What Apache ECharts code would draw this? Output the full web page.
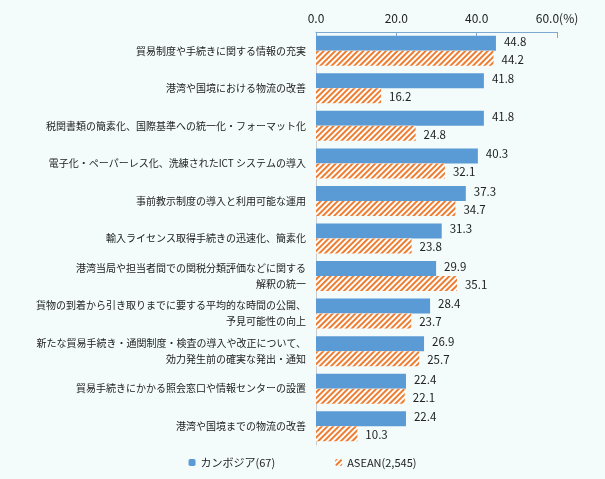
<!DOCTYPE html>
<html><head><meta charset="utf-8">
<script src="https://cdn.jsdelivr.net/npm/echarts@6/dist/echarts.min.js"></script>
<style>html,body{margin:0;padding:0;background:#f3fbfb;}#c{width:605px;height:479px;}</style>
</head><body><div id="c"></div>
<script>
const categories = [
 '貿易制度や手続きに関する情報の充実',
 '港湾や国境における物流の改善',
 '税関書類の簡素化、国際基準への統一化・フォーマット化',
 '電子化・ペーパーレス化、洗練されたICT システムの導入',
 '事前教示制度の導入と利用可能な運用',
 '輸入ライセンス取得手続きの迅速化、簡素化',
 '港湾当局や担当者間での関税分類評価などに関する\n解釈の統一',
 '貨物の到着から引き取りまでに要する平均的な時間の公開、\n予見可能性の向上',
 '新たな貿易手続き・通関制度・検査の導入や改正について、\n効力発生前の確実な発出・通知',
 '貿易手続きにかかる照会窓口や情報センターの設置',
 '港湾や国境までの物流の改善'
];
const cambodia = [44.8,41.8,41.8,40.3,37.3,31.3,29.9,28.4,26.9,22.4,22.4];
const asean = [44.2,16.2,24.8,32.1,34.7,23.8,35.1,23.7,25.7,22.1,10.3];
const xTicks = ['0.0','20.0','40.0','60.0(%)'];
const font = '"Noto Sans CJK JP","Noto Sans",sans-serif';
const chart = echarts.init(document.getElementById('c'));
chart.setOption({
 backgroundColor:'#f3fbfb',
 textStyle:{fontFamily:font},
 grid:{left:316,right:48,top:32,bottom:34},
 xAxis:{type:'value',position:'top',min:0,max:60,interval:20,
  axisLine:{show:true,lineStyle:{color:'#7fa8d0'}},
  axisTick:{show:true,inside:true,length:6,lineStyle:{color:'#7fa8d0'}},
  splitLine:{show:false},
  axisLabel:{color:'#222',fontSize:12,fontFamily:font,margin:8,
    formatter:v=>xTicks[Math.round(v/20)]}},
 yAxis:{type:'category',data:categories,inverse:true,
  axisLine:{lineStyle:{color:'#ccc'}},axisTick:{show:false},
  axisLabel:{color:'#222',fontSize:10,align:'right',lineHeight:16,fontFamily:font,margin:10}},
 legend:{bottom:6,left:'center',itemWidth:7,itemHeight:7,itemGap:60,
  textStyle:{fontSize:11,color:'#222',fontFamily:font},
  data:['カンボジア(67)','ASEAN(2,545)']},
 series:[
  {name:'カンボジア(67)',type:'bar',data:cambodia,barWidth:15,barGap:'0%',barCategoryGap:'20%',
   itemStyle:{color:'#5b9bd5'},
   label:{show:true,position:'right',color:'#222',fontSize:11.5,distance:8,offset:[0,-2],formatter:p=>p.value.toFixed(1)}},
  {name:'ASEAN(2,545)',type:'bar',data:asean,barWidth:15,
   itemStyle:{color:'#ffffff',decal:{symbol:'rect',color:'#ed7d31',dashArrayX:[1,0],dashArrayY:[2,2],rotation:-Math.PI/4}},
   label:{show:true,position:'right',color:'#222',fontSize:11.5,distance:8,offset:[0,1],formatter:p=>p.value.toFixed(1)}}
 ]
});
</script></body></html>
